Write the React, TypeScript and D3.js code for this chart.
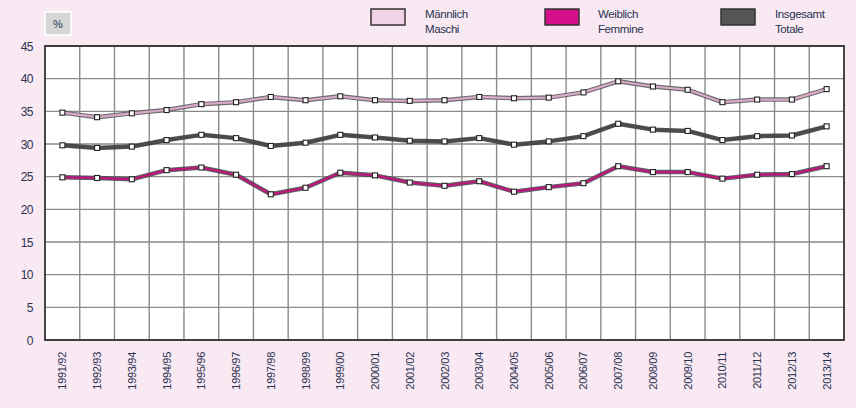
import React from "react";
import * as d3 from "d3";

const categories = ["1991/92","1992/93","1993/94","1994/95","1995/96","1996/97","1997/98","1998/99","1999/00","2000/01","2001/02","2002/03","2003/04","2004/05","2005/06","2006/07","2007/08","2008/09","2009/10","2010/11","2011/12","2012/13","2013/14"];
const maleValues = [34.8,34.1,34.7,35.2,36.1,36.4,37.2,36.7,37.3,36.7,36.6,36.7,37.2,37.0,37.1,37.9,39.6,38.8,38.3,36.4,36.8,36.8,38.4];
const totalValues = [29.8,29.4,29.6,30.6,31.4,30.9,29.7,30.2,31.4,31.0,30.5,30.4,30.9,29.9,30.4,31.2,33.1,32.2,32.0,30.6,31.2,31.3,32.7];
const femaleValues = [24.9,24.8,24.6,26.0,26.4,25.3,22.3,23.3,25.6,25.2,24.1,23.6,24.3,22.7,23.4,24.0,26.6,25.7,25.7,24.7,25.3,25.4,26.6];
const yTicks = [0,5,10,15,20,25,30,35,40,45];

const W = 856, H = 408;
const L = 45, R = 844, T = 46, B = 340;
const FONT = "'Liberation Sans', Arial, sans-serif";
const TEXT = "#2a3350";

const series = [
  { key: "m", values: maleValues, inner: "#dba9c8", outer: "#555", l1: "Männlich", l2: "Maschi", box: "#f2d2e6", bx: 371, tx: 425 },
  { key: "f", values: femaleValues, inner: "#c0147e", outer: "#444", l1: "Weiblich", l2: "Femmine", box: "#d4108a", bx: 545, tx: 598 },
  { key: "t", values: totalValues, inner: "#4a4a4a", outer: "#333", l1: "Insgesamt", l2: "Totale", box: "#555555", bx: 721, tx: 775 },
];

export default function App() {
  const x = d3.scaleBand<string>().domain(categories).range([L, R]);
  const y = d3.scaleLinear().domain([0, 45]).range([B, T]);
  const cx = (c: string) => (x(c) as number) + x.bandwidth() / 2;
  const line = d3.line<number>().x((_, i) => cx(categories[i])).y((v) => y(v));

  return (
    <svg width={W} height={H} style={{ position: "absolute", left: 0, top: 0 }} fontFamily={FONT}>
      <rect x={0} y={0} width={W} height={H} fill="#f9e9f3" />
      <rect x={L} y={T} width={R - L} height={B - T} fill="#ffffff" />
      {yTicks.map((t) => (
        <line key={"gy" + t} x1={L} x2={R} y1={y(t)} y2={y(t)} stroke="#8a8a8a" strokeWidth={1.4} />
      ))}
      {categories.slice(1).map((c) => (
        <line key={"gx" + c} x1={x(c) as number} x2={x(c) as number} y1={T} y2={B} stroke="#8a8a8a" strokeWidth={1.4} />
      ))}
      <rect x={L} y={T} width={R - L} height={B - T} fill="none" stroke="#333" strokeWidth={1.8} />
      {yTicks.map((t) => (
        <text key={"ty" + t} x={33} y={y(t) + 4.5} textAnchor="end" fontSize={12} fill={TEXT} letterSpacing={-0.5}>{t}</text>
      ))}
      {categories.map((c) => (
        <text key={"tx" + c} transform={`translate(${cx(c) + 4},${352}) rotate(-90)`} textAnchor="end" fontSize={11} fill={TEXT} letterSpacing={-0.3}>{c}</text>
      ))}
      {series.map((s) => (
        <g key={s.key}>
          <path d={line(s.values) as string} fill="none" stroke={s.outer} strokeWidth={4.5} strokeLinejoin="round" opacity={0.85} />
          <path d={line(s.values) as string} fill="none" stroke={s.inner} strokeWidth={2.2} strokeLinejoin="round" />
          {s.values.map((v, i) => (
            <rect key={i} x={cx(categories[i]) - 2.5} y={y(v) - 2.5} width={5} height={5} fill="#fff" stroke="#222" strokeWidth={1.1} />
          ))}
        </g>
      ))}
      <rect x={45} y={12} width={26} height={23} fill="#d6d6d6" stroke="#ffffff" strokeWidth={1.5} />
      <text x={58} y={28} textAnchor="middle" fontSize={11} fill={TEXT}>%</text>
      {series.map((s) => (
        <g key={"lg" + s.key}>
          <rect x={s.bx} y={9} width={34} height={16} fill={s.box} stroke="#333" strokeWidth={1.5} />
          <text x={s.tx} y={18} fontSize={11.5} fill={TEXT} letterSpacing={-0.4}>{s.l1}</text>
          <text x={s.tx} y={33} fontSize={11.5} fill={TEXT} letterSpacing={-0.4}>{s.l2}</text>
        </g>
      ))}
    </svg>
  );
}
